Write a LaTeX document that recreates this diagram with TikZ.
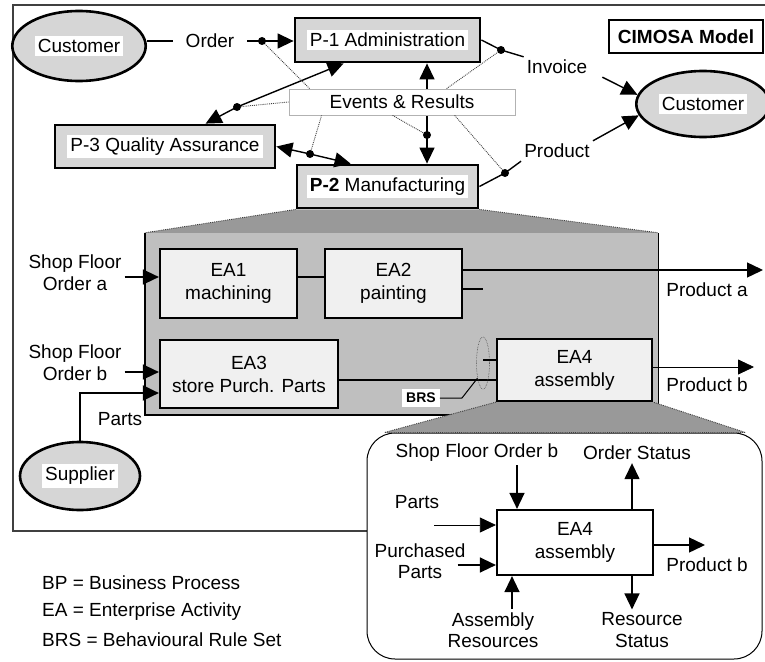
\documentclass[tikz,border=0pt]{standalone}
\usepackage{fontspec}
\setmainfont{Liberation Sans}
\usetikzlibrary{arrows.meta,shapes.geometric}
\pgfdeclarelayer{under}
\pgfsetlayers{under,main}
\definecolor{lightfill}{gray}{0.84}
\definecolor{midfill}{gray}{0.75}
\definecolor{darkfill}{gray}{0.6}
\definecolor{eafill}{gray}{0.94}
\definecolor{inkgray}{gray}{0.25}
\newcommand\onwhite[1]{{\setlength{\fboxsep}{3pt}\colorbox{white}{#1}}}

\tikzset{
  txt/.style={font=\fontsize{19}{21.5}\selectfont, inner sep=3pt, align=center},
  pbox/.style={txt, draw, line width=2.8pt, fill=lightfill},
  eabox/.style={txt, draw, line width=2.2pt, fill=eafill, font=\fontsize{19}{23}\selectfont},
  actor/.style={txt, ellipse, draw, line width=2.6pt, fill=lightfill},
  wire/.style={line width=1.4pt},
  thinwire/.style={line width=0.8pt},
  signal/.style={draw=inkgray, line width=0.9pt, densely dotted},
  edge/.style={draw=inkgray, line width=0.9pt, densely dotted},
}

\begin{document}
\begin{tikzpicture}[x=1pt,y=-1pt,>={Triangle[length=16pt,width=15pt]}]
\useasboundingbox (0,0) rectangle (765,661);

% enclosing frame of the model
\draw[inkgray, line width=1.2pt] (765,5) -- (13,5) -- (13,531) -- (367,531);

% ---------- business process level ----------
\node[actor, minimum width=122pt, minimum height=70pt] (custL) at (79,46) {\onwhite{Customer}};
\node[txt, inner xsep=13pt] (order) at (210,41) {Order};
\node[pbox, minimum width=185pt, minimum height=44pt] (p1) at (387.5,40) {\onwhite{P-1 Administration}};
\node[txt, draw, line width=1.3pt, fill=white, font=\bfseries\fontsize{19}{21.5}\selectfont,
      minimum width=154pt, minimum height=33pt] (cim) at (686,36.5) {CIMOSA Model};
\node[txt] (invoice) at (557,67) {Invoice};
\node[actor, minimum width=120pt, minimum height=66pt] (custR) at (703,104) {\onwhite{Customer}};
\node[txt] (product) at (557,151) {Product};
\node[pbox, minimum width=220pt, minimum height=43pt] (p3) at (165,146.5) {\onwhite{P-3 Quality Assurance}};
\node[pbox, minimum width=181pt, minimum height=43pt] (p2) at (387.5,186.5) {\onwhite{\textbf{P-2} Manufacturing}};
\node[txt, draw=gray!60, line width=0.8pt, fill=white, minimum width=226pt, minimum height=26pt] (ev) at (402,102) {Events \& Results};

% junction points of the flows
\coordinate (dA) at (262,41);
\coordinate (dB) at (237,107);
\coordinate (dC) at (310,154);
\coordinate (dD) at (427,135);
\coordinate (dE) at (501,50);
\coordinate (dF) at (505,173);

\draw[wire] (custL.east |- order) -- (order.west);
\draw[wire, ->] (order.east) -- (dA) -- (p1.west |- dA);
\draw[wire, <->] ([xshift=152pt]p3.north west) -- (dB) -- ([xshift=50pt]p1.south west);
\draw[wire, <->] (p3.east) -- (dC) -- ([xshift=55pt]p2.north west);
\begin{pgfonlayer}{under}
  \draw[wire, <->] (p1.south -| dD) -- (dD) -- (p2.north -| dD);
\end{pgfonlayer}
\draw[wire] (p1.east) -- (dE) -- (invoice.north west);
\draw[wire, ->] ([xshift=12pt]invoice.south east) -- (custR.172);
\draw[wire] (p2.east) -- (dF) -- (product.south west);
\draw[wire, ->] (product.north east) -- (custR.190);

% events and results links
\draw[signal] (dA) -- ([xshift=21pt]ev.north west);
\draw[signal] (dB) -- (ev.west);
\draw[signal] (dC) -- ([xshift=33pt]ev.south west);
\draw[signal] ([xshift=104pt]ev.south west) -- (dD);
\draw[signal] ([xshift=158pt]ev.north west) -- (dE);
\draw[signal] ([xshift=166pt]ev.south west) -- (dF);
\foreach \d in {dA,dB,dC,dD,dE,dF} \fill (\d) circle (4pt);

% ---------- enterprise activity level ----------
\node[fill=midfill, minimum width=513pt, minimum height=182pt] (big) at (401.5,324) {};
\fill[darkfill] (p2.south west) -- (p2.south east) -- (big.north east) -- (big.north west) -- cycle;
\draw[edge] (p2.south west) -- (big.north west) (p2.south east) -- (big.north east);
\draw[line width=2.5pt] (big.north west) -- (big.south west) -- (big.south east);
\draw[line width=1.2pt] (big.south east) -- (big.north east);

\node[eabox, minimum width=137pt, minimum height=69pt] (ea1) at (228.5,283.5) {EA1\\machining};
\node[eabox, minimum width=137pt, minimum height=69pt] (ea2) at (393.5,283.5) {EA2\\painting};
\node[eabox, minimum width=178pt, minimum height=68pt] (ea3) at (249,374) {EA3\\store Purch. Parts};
\node[eabox, minimum width=155pt, minimum height=62pt] (ea4) at (574.5,370) {EA4\\assembly};

\draw[wire] (ea1.east |- 0,277) -- (ea2.west |- 0,277);
\coordinate (pa) at (763,270);
\draw[wire, ->] (ea2.east |- pa) -- (pa);
\coordinate (stub) at (483,289);
\draw[wire] (ea2.east |- stub) -- (stub);
\node[txt] (prodA) at (707,290) {Product a};
\draw[wire] (ea3.east |- 0,380) -- (ea4.west |- 0,380);

% behavioural rule set
\node[ellipse, draw=gray!60!black, line width=0.6pt, densely dotted, minimum width=13pt, minimum height=52pt] (brs) at (483,363) {};
\draw[wire] (brs |- 0,360) -- (ea4.west |- 0,360);
\node[txt, font=\bfseries\fontsize{14}{16}\selectfont, fill=white, inner sep=4pt] (brslbl) at (421,398) {BRS};
\draw[line width=1pt] (brslbl.east) -- ++(22pt,0) -- (brs.250);

% external inputs
\node[txt] (sfa) at (75,272.5) {Shop Floor\\Order a};
\draw[wire, ->] (sfa.east |- 0,277) -- (ea1.west |- 0,277);
\node[txt] (sfb) at (75,362.5) {Shop Floor\\Order b};
\draw[wire, ->] (sfb.east |- 0,372) -- (ea3.west |- 0,372);
\node[actor, minimum width=120pt, minimum height=68pt] (supp) at (80,476) {\onwhite{Supplier}};
\draw[line width=2pt, ->] (supp.north) -- (supp.north |- 0,393) -- (ea3.west |- 0,393);
\node[txt] (parts) at (120,419) {Parts};

\coordinate (pb) at (754,367);
\draw[thinwire, ->] (ea4.east |- pb) -- (pb);
\node[txt] (prodB) at (707,385) {Product b};

% ---------- detail of EA4 ----------
\node[draw, line width=1pt, rounded corners=28pt, minimum width=395pt, minimum height=226pt, fill=white] (zoom) at (564.5,546) {};
\fill[darkfill] (ea4.south west) -- (ea4.south east) -- ([xshift=-17pt]zoom.north east) -- ([xshift=18pt]zoom.north west) -- cycle;
\draw[edge] (ea4.south west) -- ([xshift=18pt]zoom.north west) -- ([xshift=-17pt]zoom.north east) -- (ea4.south east);

\node[eabox, fill=white, minimum width=156pt, minimum height=65pt] (ea4d) at (575,542.5) {EA4\\assembly};
\node[txt] (sfob) at (477,453) {Shop Floor Order b};
\node[txt] (ost) at (637,453) {Order Status};
\node[txt] (dparts) at (417,502) {Parts};
\node[txt] (purch) at (420,561) {Purchased\\Parts};
\node[txt] (prodBd) at (707,565) {Product b};
\node[txt] (asr) at (493,630) {Assembly\\Resources};
\node[txt] (rst) at (642,630) {Resource\\Status};

\draw[wire, ->] (sfob.south -| 517,0) -- (ea4d.north -| 517,0);
\draw[wire, ->] (ea4d.north -| 632,0) -- (ost.south -| 632,0);
\draw[thinwire, ->] ([xshift=-8pt]dparts.east |- 0,525) -- (ea4d.west |- 0,525);
\draw[wire, ->] ([xshift=-11pt]purch.east |- 0,565) -- (ea4d.west |- 0,565);
\coordinate (pbd) at (705,545);
\draw[wire, ->] (ea4d.east |- pbd) -- (pbd);
\draw[wire, ->] (asr.north -| 512,0) -- (ea4d.south -| 512,0);
\draw[wire, ->] (ea4d.south -| 632,0) -- (rst.north -| 632,0);

% ---------- legend ----------
\node[txt, anchor=west] (leg1) at (39,583) {BP = Business Process};
\node[txt, anchor=west] (leg2) at (39,612) {EA = Enterprise Activity};
\node[txt, anchor=west] (leg3) at (39,640) {BRS = Behavioural Rule Set};
\end{tikzpicture}
\end{document}
